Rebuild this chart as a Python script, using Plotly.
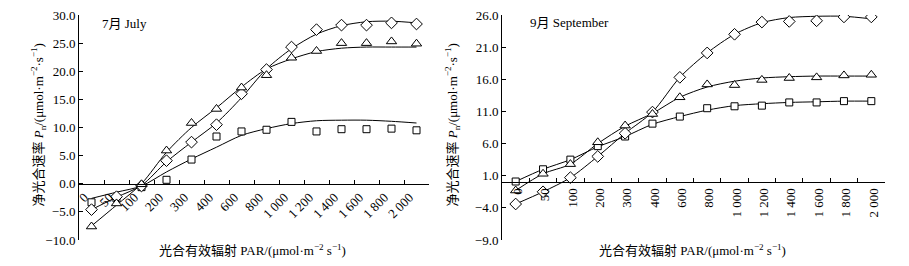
import plotly.graph_objects as go

# PAR categories (μmol·m-2 s-1)
par = ["0", "50", "100", "200", "300", "400", "600", "800", "1000", "1200", "1400", "1600", "1800", "2000"]
par_labels = ["0", "50", "100", "200", "300", "400", "600", "800", "1 000", "1 200", "1 400", "1 600", "1 800", "2 000"]

# July - measured points
jul_diamond = [-4.6, -2.3, -0.4, 4.1, 7.4, 10.5, 16.0, 20.3, 24.3, 27.4, 28.2, 28.2, 28.6, 28.4]
jul_triangle = [-7.6, -3.5, -0.1, 5.9, 10.8, 13.3, 17.1, 19.3, 22.4, 23.6, 25.0, 25.0, 25.3, 24.9]
jul_square = [-3.3, -2.6, -0.6, 0.7, 4.3, 8.4, 9.3, 9.6, 11.0, 9.3, 9.7, 9.7, 9.8, 9.5]
# July - fitted curves (read at each PAR level)
jul_diamond_fit = [-4.6, -2.4, -0.3, 3.9, 7.4, 10.8, 15.3, 20.4, 24.0, 26.6, 28.1, 28.8, 28.9, 28.6]
jul_triangle_fit = [-7.5, -3.8, 0.0, 5.6, 10.0, 13.5, 17.2, 20.4, 22.2, 23.5, 24.1, 24.3, 24.3, 24.3]
jul_square_fit = [-2.6, -1.5, -0.4, 2.1, 4.4, 6.5, 8.6, 9.8, 10.7, 11.2, 11.3, 11.3, 11.1, 10.8]

# September - measured points
sep_diamond = [-3.4, -1.5, 0.7, 4.0, 7.6, 10.9, 16.3, 20.1, 23.0, 24.9, 25.0, 25.1, 25.7, 25.7]
sep_triangle = [-1.3, 1.3, 2.8, 6.2, 8.8, 10.6, 13.2, 15.2, 15.1, 15.9, 16.2, 16.3, 16.6, 16.7]
sep_square = [0.1, 2.0, 3.5, 5.6, 7.1, 9.1, 10.2, 11.5, 11.8, 11.9, 12.4, 12.4, 12.6, 12.6]
# September - fitted curves
sep_diamond_fit = [-3.4, -1.5, 0.7, 4.0, 7.6, 10.9, 16.3, 20.1, 23.0, 24.8, 25.6, 25.8, 25.8, 25.4]
sep_triangle_fit = [-1.3, 1.3, 2.8, 6.0, 8.7, 10.7, 13.2, 14.8, 15.7, 16.2, 16.4, 16.5, 16.5, 16.5]
sep_square_fit = [0.1, 2.0, 3.5, 5.5, 7.1, 9.0, 10.2, 11.2, 11.9, 12.2, 12.4, 12.5, 12.6, 12.6]

FONT = "Liberation Serif, Times New Roman, Noto Sans CJK SC, serif"

fig = go.Figure()

def add_panel(xa, ya, fits, points):
    for f in fits:
        fig.add_trace(go.Scatter(x=par, y=f, mode="lines", line=dict(color="black", width=1, shape="spline", smoothing=0.8),
                                 xaxis=xa, yaxis=ya, showlegend=False, hoverinfo="skip"))
    for vals, sym, sz in points:
        fig.add_trace(go.Scatter(x=par, y=vals, mode="markers",
                                 marker=dict(symbol=sym, size=sz, color="white", line=dict(color="black", width=1)),
                                 xaxis=xa, yaxis=ya, showlegend=False))

add_panel("x", "y", [jul_diamond_fit, jul_triangle_fit, jul_square_fit],
          [(jul_square, "square", 7), (jul_diamond, "diamond", 9), (jul_triangle, "triangle-up", 9)])
add_panel("x2", "y2", [sep_diamond_fit, sep_triangle_fit, sep_square_fit],
          [(sep_square, "square", 7), (sep_diamond, "diamond", 9), (sep_triangle, "triangle-up", 9)])

W, H = 909, 266
ml, mr, mt, mb = 79, 24, 8, 26
pw = W - ml - mr
ph = H - mt - mb
left_dom = [0, 350 / pw]
right_dom = [(502 - ml) / pw, 1]

tickfont = dict(family=FONT, size=13, color="black")
xcommon = dict(type="category", categoryorder="array", categoryarray=par, tickvals=par, ticktext=par_labels,
               range=[-0.5, 13.5], showline=True, linecolor="black", linewidth=1, ticks="inside", ticklen=4,
               tickcolor="black", tickson="boundaries", showgrid=False, zeroline=False, tickfont=tickfont,
               anchor="free")
ycommon = dict(showline=True, linecolor="black", linewidth=1, ticks="inside", ticklen=4, tickcolor="black",
               showgrid=False, zeroline=False, tickformat=".1f", tickfont=tickfont, domain=[0, 1])

fig.update_layout(
    width=W, height=H, margin=dict(l=ml, r=mr, t=mt, b=mb),
    paper_bgcolor="white", plot_bgcolor="white", showlegend=False,
    font=dict(family=FONT, size=13, color="black"),
    xaxis=dict(xcommon, domain=left_dom, position=10 / 40, tickangle=-45, ticklabelshift=-7),
    yaxis=dict(ycommon, anchor="x", range=[-10, 30], dtick=5, tick0=0),
    xaxis2=dict(xcommon, domain=right_dom, position=9 / 35, tickangle=-90, ticklabelshift=2),
    yaxis2=dict(ycommon, anchor="x2", range=[-9, 26], dtick=5, tick0=-9),
)

def px_x(px):
    return (px - ml) / pw

def px_y(py):
    return (H - mb - py) / ph

ytitle = "净光合速率 <i>P</i><sub>n</sub>/(μmol·m<sup>−2</sup>·s<sup>−1</sup>)"
xtitle = "光合有效辐射 PAR/(μmol·m<sup>−2</sup> s<sup>−1</sup>)"
ann = [
    dict(text="7月 July", x=px_x(100), y=px_y(17), xanchor="left", yanchor="middle"),
    dict(text="9月 September", x=px_x(528), y=px_y(16), xanchor="left", yanchor="middle"),
    dict(text=xtitle, x=px_x(157), y=px_y(250), xanchor="left", yanchor="middle"),
    dict(text=xtitle, x=px_x(597), y=px_y(250), xanchor="left", yanchor="middle"),
    dict(text=ytitle, x=px_x(38), y=px_y(122), xanchor="center", yanchor="middle", textangle=-90),
    dict(text=ytitle, x=px_x(452), y=px_y(122), xanchor="center", yanchor="middle", textangle=-90),
]
for a in ann:
    fig.add_annotation(xref="paper", yref="paper", showarrow=False, font=dict(family=FONT, size=13, color="black"), **a)

fig.write_html("out.html", config={"displayModeBar": False},
               post_script="document.body.style.margin='0';document.body.style.overflow='hidden';")
